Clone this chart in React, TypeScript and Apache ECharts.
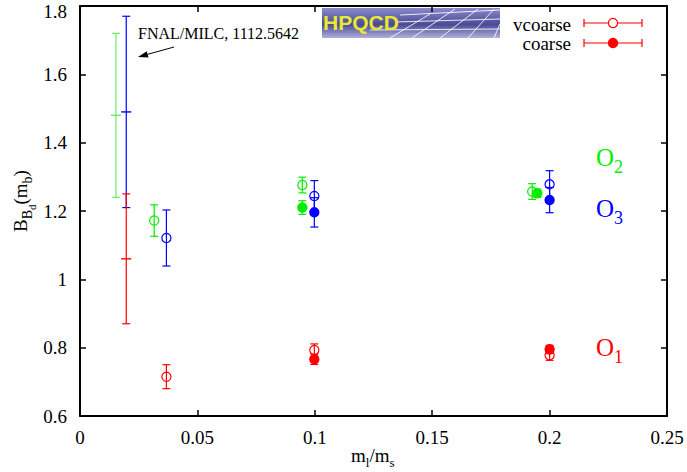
import React, { useEffect, useRef } from "react";
import * as echarts from "echarts";

// axis ticks
const xTicks = [0, 0.05, 0.1, 0.15, 0.2, 0.25];
const yTicks = [0.6, 0.8, 1.0, 1.2, 1.4, 1.6, 1.8];

// data points: [m_l/m_s, B_Bd(m_b), error]
const o1Vcoarse = [[0.0368, 0.715, 0.035], [0.0998, 0.793, 0.018], [0.2, 0.778, 0.015]];
const o1Coarse = [[0.0998, 0.766, 0.015], [0.2, 0.795, 0.012]];
const o2Vcoarse = [[0.0316, 1.172, 0.046], [0.0947, 1.276, 0.023], [0.1926, 1.257, 0.023]];
const o2Coarse = [[0.0947, 1.21, 0.02], [0.1948, 1.252, 0.012]];
const o3Vcoarse = [[0.0368, 1.121, 0.082], [0.0998, 1.244, 0.045], [0.2, 1.278, 0.04]];
const o3Coarse = [[0.0998, 1.196, 0.043], [0.2, 1.232, 0.037]];
const fnalO1 = [[0.0197, 1.06, 0.19]];
const fnalO2 = [[0.0153, 1.48, 0.24]];
const fnalO3 = [[0.0197, 1.49, 0.28]];

const RED = "#ff0000";
const GREEN = "#00ee00";
const GREEN_LIGHT = "#66ee66";
const BLUE = "#0000ff";
const SERIF = "Liberation Serif";

const X_MIN = 0, X_MAX = 0.25, X_STEP = 0.05;
const Y_MIN = 0.6, Y_MAX = 1.8, Y_STEP = 0.2;

let measureCtx: CanvasRenderingContext2D | null = null;
function textWidth(t: string, size: number) {
  if (!measureCtx) measureCtx = document.createElement("canvas").getContext("2d");
  if (!measureCtx) return t.length * size * 0.5;
  measureCtx.font = `${size}px "${SERIF}"`;
  return measureCtx.measureText(t).width;
}

// pieces: [text, size, baselineShift]
function pieces(list: [string, number, number][], color: string, x0: number, baseline: number) {
  let x = x0;
  const out: any[] = [];
  for (const [t, size, dy] of list) {
    out.push({
      type: "text",
      x,
      y: baseline + dy - 0.33 * size,
      style: { text: t, fill: color, font: `${size}px "${SERIF}"`, textAlign: "left", textVerticalAlign: "middle" },
    });
    x += textWidth(t, size);
  }
  return out;
}

function errorSeries(name: string, data: number[][], color: string, kind: "open" | "filled" | "plus") {
  return {
    type: "custom",
    name,
    data,
    encode: { x: 0, y: 1 },
    clip: false,
    z: kind === "filled" ? 4 : 3,
    renderItem: (_params: any, api: any) => {
      const x = api.value(0);
      const y = api.value(1);
      const e = api.value(2);
      const c = api.coord([x, y]);
      const t = api.coord([x, y + e]);
      const b = api.coord([x, y - e]);
      const cap = 4;
      const ls = { stroke: color, lineWidth: 1.2 };
      const children: any[] = [
        { type: "line", shape: { x1: c[0], y1: t[1], x2: c[0], y2: b[1] }, style: ls },
        { type: "line", shape: { x1: c[0] - cap, y1: t[1], x2: c[0] + cap, y2: t[1] }, style: ls },
        { type: "line", shape: { x1: c[0] - cap, y1: b[1], x2: c[0] + cap, y2: b[1] }, style: ls },
      ];
      if (kind === "plus") {
        children.push({ type: "line", shape: { x1: c[0] - 5, y1: c[1], x2: c[0] + 5, y2: c[1] }, style: { stroke: color, lineWidth: 1.4 } });
      } else {
        children.push({
          type: "circle",
          shape: { cx: c[0], cy: c[1], r: 4.6 },
          style: { fill: kind === "filled" ? color : "none", stroke: color, lineWidth: 1.2 },
        });
      }
      return { type: "group", children };
    },
  };
}

function fmt(v: number) {
  return String(+v.toFixed(2));
}

// tick labels drawn through the axes' own scale
function tickLabelSeries(name: string, data: number[][], axis: "x" | "y") {
  return {
    type: "custom",
    name,
    data,
    encode: { x: 0, y: 1 },
    clip: false,
    silent: true,
    renderItem: (_params: any, api: any) => {
      const v = axis === "x" ? api.value(0) : api.value(1);
      const c = api.coord([api.value(0), api.value(1)]);
      return {
        type: "text",
        x: axis === "x" ? c[0] : c[0] - 13,
        y: axis === "x" ? c[1] + 21 : Math.max(c[1], 11),
        style: {
          text: fmt(v),
          fill: "#000",
          fontFamily: SERIF,
          fontSize: 19,
          fontWeight: "normal",
          textAlign: axis === "x" ? "center" : "right",
          textVerticalAlign: "middle",
        },
      };
    },
  };
}

export default function App() {
  const ref = useRef<HTMLDivElement>(null);
  useEffect(() => {
    if (!ref.current) return;
    const chart = echarts.init(ref.current, null, { renderer: "svg" });

    const axisLine = { show: true, onZero: false, lineStyle: { color: "#000", width: 2 } };
    const axisTick = { show: true, inside: true, length: 6, lineStyle: { color: "#000", width: 1.5 } };

    // legend symbol
    const legendItem = (y: number, filled: boolean) => [
      { type: "line", shape: { x1: 584, y1: y, x2: 642, y2: y }, style: { stroke: RED, lineWidth: 1.2 } },
      { type: "line", shape: { x1: 584, y1: y - 4, x2: 584, y2: y + 4 }, style: { stroke: RED, lineWidth: 1.2 } },
      { type: "line", shape: { x1: 642, y1: y - 4, x2: 642, y2: y + 4 }, style: { stroke: RED, lineWidth: 1.2 } },
      { type: "circle", shape: { cx: 613, cy: y, r: 4.6 }, style: { fill: filled ? RED : "#fff", stroke: RED, lineWidth: 1.2 } },
    ];

    // arrow
    const ax1 = 174, ay1 = 47, ax2 = 138, ay2 = 57;
    const dx = ax2 - ax1, dy = ay2 - ay1, L = Math.hypot(dx, dy);
    const ux = dx / L, uy = dy / L;
    const hl = 10, hw = 3.2;
    const bx = ax2 - ux * hl, by = ay2 - uy * hl;

    // y axis name pieces (rotated group, local coords)
    const yName = pieces(
      [["B", 19, 0], ["B", 14, 5], ["d", 11, 9], ["(m", 19, 0], ["b", 14, 5], [")", 19, 0]],
      "#000", 0, 0
    );

    const xName = pieces([["m", 19, 0], ["l", 13, 5], ["/m", 19, 0], ["s", 13, 5]], "#000", 351, 462);

    const opLabel = (txt: string, sub: string, color: string, baseline: number) =>
      pieces([[txt, 25, 0], [sub, 18, 7]], color, 596, baseline);

    const logoLines = [
      [400, 15, 500, 10], [395, 22, 500, 19], [370, 30, 500, 29],
      [412, 38, 455, 9], [440, 38, 478, 9], [468, 38, 494, 9], [494, 38, 500, 24],
      [390, 38, 430, 14],
    ];

    const xAxisBase = { type: "value", min: X_MIN, max: X_MAX, interval: X_STEP, axisLine, axisTick, splitLine: { show: false }, axisLabel: { show: false } };
    const yAxisBase = { type: "value", min: Y_MIN, max: Y_MAX, interval: Y_STEP, axisLine, axisTick, splitLine: { show: false }, axisLabel: { show: false } };

    chart.setOption({
      animation: false,
      backgroundColor: "#fff",
      grid: { left: 80, right: 20, top: 6, bottom: 56, containLabel: false },
      xAxis: [
        { ...xAxisBase, position: "bottom" },
        { ...xAxisBase, position: "top" },
      ],
      yAxis: [
        { ...yAxisBase, position: "left" },
        { ...yAxisBase, position: "right" },
      ],
      series: [
        tickLabelSeries("x ticks", xTicks.map((v) => [v, Y_MIN]), "x"),
        tickLabelSeries("y ticks", yTicks.map((v) => [X_MIN, v]), "y"),
        errorSeries("FNAL O2", fnalO2, GREEN_LIGHT, "plus"),
        errorSeries("FNAL O3", fnalO3, BLUE, "plus"),
        errorSeries("FNAL O1", fnalO1, RED, "plus"),
        errorSeries("O2 vcoarse", o2Vcoarse, GREEN, "open"),
        errorSeries("O2 coarse", o2Coarse, GREEN, "filled"),
        errorSeries("O3 vcoarse", o3Vcoarse, BLUE, "open"),
        errorSeries("O3 coarse", o3Coarse, BLUE, "filled"),
        errorSeries("O1 vcoarse", o1Vcoarse, RED, "open"),
        errorSeries("O1 coarse", o1Coarse, RED, "filled"),
      ],
      graphic: [
        // HPQCD logo
        {
          type: "group", z: 100,
          children: [
            {
              type: "rect", shape: { x: 322, y: 8, width: 178, height: 30 },
              style: {
                fill: new echarts.graphic.LinearGradient(0, 0, 0, 1, [
                  { offset: 0, color: "#8a8acc" },
                  { offset: 0.55, color: "#4a4a96" },
                  { offset: 1, color: "#b0b0da" },
                ]),
              },
            },
            ...logoLines.map(([x1, y1, x2, y2]) => ({
              type: "line", shape: { x1, y1, x2, y2 }, style: { stroke: "rgba(255,255,255,0.85)", lineWidth: 1 },
            })),
            {
              type: "text", x: 323, y: 22,
              style: { text: "HPQCD", fill: "#e8e830", font: 'bold 21px "Liberation Sans"', textVerticalAlign: "middle" },
            },
          ],
        },
        // legend
        {
          type: "text", x: 571, y: 24,
          style: { text: "vcoarse", fill: "#000", font: `19px "${SERIF}"`, textAlign: "right", textVerticalAlign: "middle" },
        },
        {
          type: "text", x: 571, y: 43,
          style: { text: "coarse", fill: "#000", font: `19px "${SERIF}"`, textAlign: "right", textVerticalAlign: "middle" },
        },
        ...legendItem(23, false),
        ...legendItem(43, true),
        // FNAL annotation
        {
          type: "text", x: 138, y: 33,
          style: { text: "FNAL/MILC, 1112.5642", fill: "#000", font: `16px "${SERIF}"`, textVerticalAlign: "middle" },
        },
        { type: "line", shape: { x1: ax1, y1: ay1, x2: bx, y2: by }, style: { stroke: "#000", lineWidth: 1 } },
        {
          type: "polygon",
          shape: { points: [[ax2, ay2], [bx - uy * hw, by + ux * hw], [bx + uy * hw, by - ux * hw]] },
          style: { fill: "#000" },
        },
        // operator labels
        ...opLabel("O", "2", GREEN, 166),
        ...opLabel("O", "3", BLUE, 217),
        ...opLabel("O", "1", RED, 356),
        // axis names
        { type: "group", x: 27, y: 232, rotation: Math.PI / 2, children: yName },
        ...xName,
      ],
    });
    return () => chart.dispose();
  }, []);
  return <div ref={ref} style={{ position: "fixed", left: 0, top: 0, width: 687, height: 472 }} />;
}
